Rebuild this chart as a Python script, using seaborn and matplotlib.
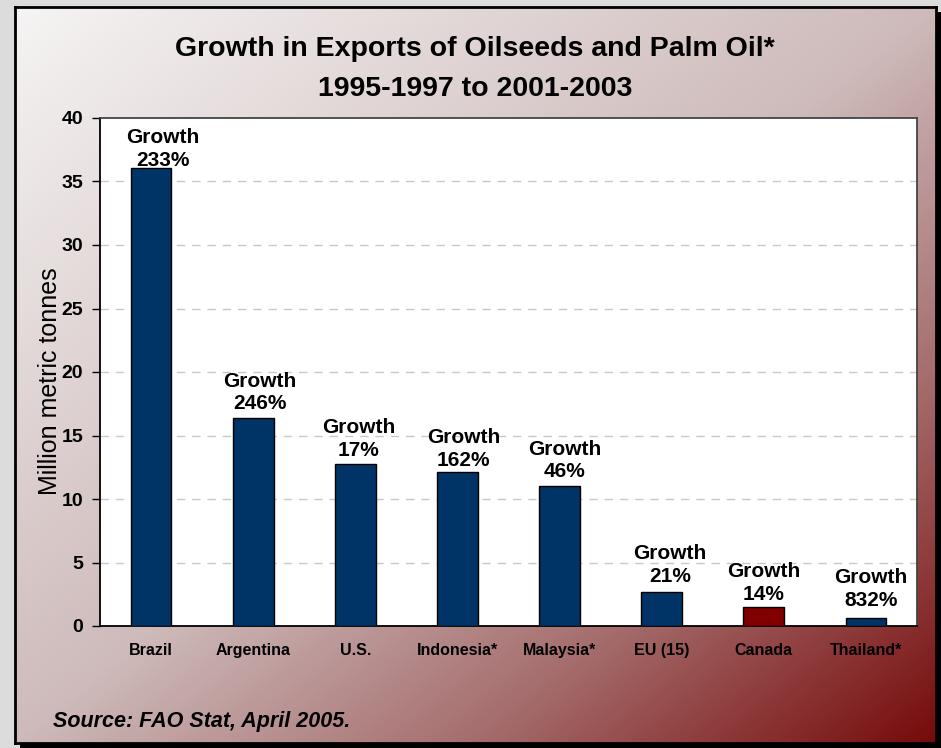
import numpy as np
import matplotlib
matplotlib.use("Agg")
import matplotlib.pyplot as plt
from matplotlib.patches import Rectangle
import seaborn as sns

# ---- data -------------------------------------------------------------
countries = ["Brazil", "Argentina", "U.S.", "Indonesia*", "Malaysia*",
             "EU (15)", "Canada", "Thailand*"]
exports_mt = [36.1, 16.35, 12.75, 12.15, 11.0, 2.7, 1.5, 0.62]
growth_pct = [233, 246, 17, 162, 46, 21, 14, 832]
y_ticks = [0, 5, 10, 15, 20, 25, 30, 35, 40]

# ---- styling ----------------------------------------------------------
NAVY = "#003366"
MAROON = "#800000"
bar_colors = [MAROON if c == "Canada" else NAVY for c in countries]
# pixel nudges (dx, dy) for the "Growth" annotations
label_nudge = [(12, -2), (7, 5), (3, 4), (6, 2), (5, 5), (8, 6), (0, 3), (5, 8)]

sns.set_theme(style="white")
plt.rcParams["font.family"] = ["Liberation Sans", "DejaVu Sans"]
for key in ["text.color", "axes.labelcolor", "xtick.color", "ytick.color"]:
    plt.rcParams[key] = "black"

W, H = 941, 748
fig = plt.figure(figsize=(W / 100, H / 100), dpi=100)
fig.patch.set_facecolor("#dcdcdc")


def fig_rect(x0, y0, x1, y1):
    """pixel box (top-left origin) -> figure fraction rect"""
    return [x0 / W, 1 - y1 / H, (x1 - x0) / W, (y1 - y0) / H]


# drop shadow behind the panel
sx0, sy0, sx1, sy1 = fig_rect(20, 12, 941, 748)
fig.patches.append(Rectangle((sx0, sy0), sx1, sy1, transform=fig.transFigure,
                             facecolor="black", edgecolor="none", zorder=0))

# gradient panel
panel = fig.add_axes(fig_rect(15, 7, 936, 743), zorder=1)
ph, pw = 368, 460
u = np.linspace(0, 1, pw)[None, :]
v = np.linspace(0, 1, ph)[:, None]
t = 0.5 * u + 0.5 * v
stops = [0.0, 0.5, 0.75, 1.0]
rgb = np.stack([
    np.interp(t, stops, [246, 206, 165, 118]),
    np.interp(t, stops, [244, 186, 108, 10]),
    np.interp(t, stops, [244, 186, 108, 10]),
], axis=-1) / 255.0
panel.imshow(rgb, aspect="auto", extent=(0, 1, 0, 1), interpolation="bilinear")
panel.set_xticks([])
panel.set_yticks([])
for s in panel.spines.values():
    s.set_color("black")
    s.set_linewidth(2)

# main chart
ax = fig.add_axes(fig_rect(100, 118, 917, 626), zorder=2)
ax.set_facecolor("white")
sns.barplot(x=countries, y=exports_mt, hue=countries, palette=bar_colors,
            legend=False, width=0.4, edgecolor="black", linewidth=1.0,
            saturation=1, ax=ax, zorder=3)

ax.set_ylim(0, 40)
ax.set_xlim(-0.5, len(countries) - 0.5)
ax.set_yticks(y_ticks)
ax.set_yticklabels([str(y) for y in y_ticks], fontsize=14, fontweight="bold")
ax.set_xticks(range(len(countries)))
ax.set_xticklabels(countries, fontsize=11.5, fontweight="bold")
ax.tick_params(axis="y", direction="out", length=6, width=1, color="black",
               pad=6, left=True)
ax.tick_params(axis="x", length=0, pad=12)

for y in y_ticks[1:-1]:
    ax.axhline(y, color="#c8c8c8", lw=1, ls=(0, (6, 5)), zorder=1)

for side in ["left", "bottom"]:
    ax.spines[side].set_color("black")
    ax.spines[side].set_linewidth(1.3)
for side in ["top", "right"]:
    ax.spines[side].set_color("#444444")
    ax.spines[side].set_linewidth(1.3)

ax.set_xlabel("")
ax.set_ylabel("Million metric tonnes", fontsize=18, color="black")
ax.yaxis.set_label_coords(-0.047, 0.482)

for i, (val, g) in enumerate(zip(exports_mt, growth_pct)):
    dx, dy = label_nudge[i]
    ax.annotate(f"Growth\n{g}%", xy=(i, val), xytext=(dx, dy),
                textcoords="offset pixels", ha="center", va="bottom",
                fontsize=15, fontweight="bold", linespacing=1.25,
                annotation_clip=False, zorder=5)

# titles and source
fig.text(475 / W, 1 - 56 / H, "Growth in Exports of Oilseeds and Palm Oil*",
         ha="center", va="baseline", fontsize=20.5, fontweight="bold", zorder=5)
fig.text(475 / W, 1 - 96 / H, "1995-1997 to 2001-2003",
         ha="center", va="baseline", fontsize=20.5, fontweight="bold", zorder=5)
fig.text(53 / W, 1 - 727 / H, "Source: FAO Stat, April 2005.",
         ha="left", va="baseline", fontsize=15.5, fontweight="bold",
         style="italic", zorder=5)

fig.savefig("out.png", dpi=100, facecolor=fig.get_facecolor())
